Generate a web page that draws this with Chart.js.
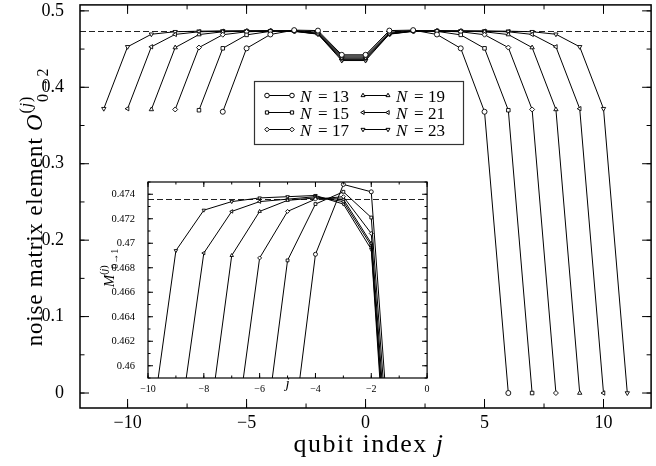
<!DOCTYPE html>
<html>
<head>
<meta charset="utf-8">
<script src="https://cdn.jsdelivr.net/npm/chart.js@4.4.1/dist/chart.umd.min.js"></script>
<style>
html, body { margin: 0; padding: 0; background: #fff; }
#wrap { position: relative; width: 656px; height: 466px; overflow: hidden; }
#main { position: absolute; left: 0; top: 0; }
#inset { position: absolute; left: 96px; top: 176px; }
</style>
</head>
<body>
<div id="wrap">
	<canvas id="main" width="656" height="466"></canvas>
	<canvas id="inset" width="336" height="222"></canvas>
</div>
<script>
// chain sizes and qubit indices
const sizes = ['13', '15', '17', '19', '21', '23']
const j13 = [-6, -5, -4, -3, -2, -1, 0, 1, 2, 3, 4, 5, 6]
const j15 = [-7, -6, -5, -4, -3, -2, -1, 0, 1, 2, 3, 4, 5, 6, 7]
const j17 = [-8, -7, -6, -5, -4, -3, -2, -1, 0, 1, 2, 3, 4, 5, 6, 7, 8]
const j19 = [-9, -8, -7, -6, -5, -4, -3, -2, -1, 0, 1, 2, 3, 4, 5, 6, 7, 8, 9]
const j21 = [-10, -9, -8, -7, -6, -5, -4, -3, -2, -1, 0, 1, 2, 3, 4, 5, 6, 7, 8, 9, 10]
const j23 = [-11, -10, -9, -8, -7, -6, -5, -4, -3, -2, -1, 0, 1, 2, 3, 4, 5, 6, 7, 8, 9, 10, 11]

// noise matrix element per qubit
const o13 = [0.368, 0.451, 0.4691, 0.4748, 0.4742, 0.4425, 0.4425, 0.4742, 0.4748, 0.4691, 0.451, 0.368, 0]
const o15 = [0.370, 0.451, 0.4686, 0.4732, 0.4742, 0.4721, 0.441, 0.441, 0.4721, 0.4742, 0.4732, 0.4686, 0.451, 0.370, 0]
const o17 = [0.371, 0.452, 0.4688, 0.4726, 0.4736, 0.4738, 0.4708, 0.4395, 0.4395, 0.4708, 0.4738, 0.4736, 0.4726, 0.4688, 0.452, 0.371, 0]
const o19 = [0.371, 0.452, 0.4690, 0.4726, 0.4735, 0.4737, 0.4736, 0.4700, 0.438, 0.438, 0.4700, 0.4736, 0.4737, 0.4735, 0.4726, 0.4690, 0.452, 0.371, 0]
const o21 = [0.372, 0.453, 0.4692, 0.4726, 0.4734, 0.4736, 0.4738, 0.4734, 0.4698, 0.4365, 0.4365, 0.4698, 0.4734, 0.4738, 0.4736, 0.4734, 0.4726, 0.4692, 0.453, 0.372, 0]
const o23 = [0.372, 0.453, 0.4694, 0.4727, 0.4734, 0.4737, 0.4738, 0.4739, 0.4732, 0.4695, 0.435, 0.435, 0.4695, 0.4732, 0.4739, 0.4738, 0.4737, 0.4734, 0.4727, 0.4694, 0.453, 0.372, 0]

const plateau = 0.4736

// tick values
const mainXTicks = [-10, -5, 0, 5, 10]
const mainYTicks = [0, 0.1, 0.2, 0.3, 0.4, 0.5]
const insetXTicks = [-10, -8, -6, -4, -2, 0]
const insetYTicks = [0.46, 0.462, 0.464, 0.466, 0.468, 0.47, 0.472, 0.474]

const markers = ['circle', 'rect', 'rectRot', 'triangle', 'triangle', 'triangle']
const markerTurn = [0, 0, 0, 0, -90, 180]

const serif = '"Liberation Serif", "DejaVu Serif", serif'
const jAll = [j13, j15, j17, j19, j21, j23]
const oAll = [o13, o15, o17, o19, o21, o23]

const makeSets = (radius) => sizes.map((n, i) => ({
	label: 'N = ' + n,
	data: jAll[i].map((j, k) => ({x: j, y: oAll[i][k]})),
	borderColor: '#000',
	borderWidth: 1,
	backgroundColor: '#fff',
	pointStyle: markers[i],
	pointRotation: markerTurn[i],
	pointRadius: radius,
	pointBorderWidth: 0.9,
	pointBorderColor: '#000',
	pointBackgroundColor: '#fff',
	tension: 0
}))

const minus = v => (v < 0 ? '\u2212' + Math.abs(v) : String(v))
const useTicks = list => s => { s.ticks = list.map(v => ({value: v})) }

// frame, inward ticks and the dashed plateau
const framePlugin = {
	id: 'frame',
	beforeDatasetsDraw(chart, args, o) {
		const {ctx, chartArea: a, scales: {y}} = chart
		const yp = Math.round(y.getPixelForValue(plateau)) + 0.5
		ctx.save()
		ctx.strokeStyle = '#222'
		ctx.lineWidth = 1
		ctx.setLineDash(o.dash)
		ctx.beginPath()
		ctx.moveTo(a.left, yp)
		ctx.lineTo(a.right, yp)
		ctx.stroke()
		ctx.restore()
	},
	afterDraw(chart, args, o) {
		const {ctx, chartArea: a, scales: {x, y}} = chart
		ctx.save()
		ctx.strokeStyle = '#000'
		ctx.lineWidth = 1
		const marks = (scale, step, len) => {
			const k0 = Math.ceil(scale.min / step - 1e-9)
			const k1 = Math.floor(scale.max / step + 1e-9)
			for (let k = k0; k <= k1; k++) {
				const p = scale.getPixelForValue(k * step)
				ctx.beginPath()
				if (scale.axis === 'x') {
					ctx.moveTo(p, a.bottom); ctx.lineTo(p, a.bottom - len)
					ctx.moveTo(p, a.top); ctx.lineTo(p, a.top + len)
				} else {
					ctx.moveTo(a.left, p); ctx.lineTo(a.left + len, p)
					ctx.moveTo(a.right, p); ctx.lineTo(a.right - len, p)
				}
				ctx.stroke()
			}
		}
		marks(x, o.xMinor, o.minorLen)
		marks(x, o.xMajor, o.majorLen)
		marks(y, o.yMinor, o.minorLen)
		marks(y, o.yMajor, o.majorLen)
		ctx.lineWidth = o.frameWidth
		ctx.strokeRect(a.left, a.top, a.right - a.left, a.bottom - a.top)
		ctx.restore()
	}
}

// draws a run of text pieces; s = size, it = italic, dy = shift, back = start at previous x
const drawPieces = (ctx, pieces, x, y, center, spacing) => {
	const fontOf = p => (p.it ? 'italic ' : '') + p.s + 'px ' + serif
	ctx.letterSpacing = (spacing || 0) + 'px'
	let w = 0, last = 0
	pieces.forEach(p => {
		ctx.font = fontOf(p)
		const pw = ctx.measureText(p.t).width
		if (p.back) { w = Math.max(w, last + pw) } else { last = w; w = w + pw }
	})
	let px = center ? x - w / 2 : x
	let start = px
	pieces.forEach(p => {
		ctx.font = fontOf(p)
		const pw = ctx.measureText(p.t).width
		if (p.back) {
			ctx.fillText(p.t, start, y + (p.dy || 0))
		} else {
			start = px
			ctx.fillText(p.t, px, y + (p.dy || 0))
			px += pw
		}
	})
	ctx.letterSpacing = '0px'
}

const mainText = {
	id: 'mainText',
	afterDraw(chart) {
		const {ctx, chartArea: a} = chart
		ctx.save()
		ctx.fillStyle = '#000'
		ctx.textBaseline = 'alphabetic'
		ctx.textAlign = 'left'
		// x title
		drawPieces(ctx, [
			{t: 'qubit index ', s: 26},
			{t: 'j', s: 26, it: true}
		], 369, 452, true, 1.5)
		// y title
		ctx.save()
		ctx.translate(42, 207)
		ctx.rotate(-Math.PI / 2)
		drawPieces(ctx, [
			{t: 'noise matrix element ', s: 23},
			{t: 'O', s: 23, it: true},
			{t: '(', s: 16, dy: -11},
			{t: 'j', s: 16, it: true, dy: -11},
			{t: ')', s: 16, dy: -11},
			{t: '0\u21922', s: 16, dy: 6, back: true}
		], 0, 0, true, 0.8)
		ctx.restore()

		// legend
		const bx = 254.5, by = 81.5, bw = 209, bh = 63
		ctx.fillStyle = '#fff'
		ctx.fillRect(bx, by, bw, bh)
		ctx.strokeStyle = '#333'
		ctx.lineWidth = 1.2
		ctx.strokeRect(bx, by, bw, bh)
		sizes.forEach((n, i) => {
			const col = i < 3 ? 0 : 1
			const row = i % 3
			const ly = 95.5 + row * 17
			const x1 = col ? 363 : 267
			const x2 = x1 + 25
			ctx.strokeStyle = '#000'
			ctx.lineWidth = 1
			ctx.beginPath()
			ctx.moveTo(x1, ly); ctx.lineTo(x2, ly)
			ctx.stroke()
			ctx.fillStyle = '#fff'
			const opt = {pointStyle: markers[i], rotation: markerTurn[i], radius: 2.3, borderWidth: 0.9}
			Chart.helpers.drawPoint(ctx, opt, x1, ly)
			Chart.helpers.drawPoint(ctx, opt, x2, ly)
			ctx.fillStyle = '#000'
			ctx.font = 'italic 17px ' + serif
			ctx.fillText('N', x1 + 33, ly + 6)
			ctx.font = '17px ' + serif
			ctx.fillText('=', x1 + 51, ly + 6)
			ctx.fillText(n, x1 + 65, ly + 6)
		})
		ctx.restore()
	}
}

const insetText = {
	id: 'insetText',
	afterDraw(chart) {
		const {ctx, chartArea: a} = chart
		ctx.save()
		ctx.fillStyle = '#000'
		ctx.textBaseline = 'alphabetic'
		drawPieces(ctx, [{t: 'j', s: 15, it: true}], (a.left + a.right) / 2, 212, true)
		ctx.translate(18, 92)
		ctx.rotate(-Math.PI / 2)
		drawPieces(ctx, [
			{t: 'M', s: 15, it: true},
			{t: '(', s: 10, dy: -7},
			{t: 'j', s: 10, it: true, dy: -7},
			{t: ')', s: 10, dy: -7},
			{t: '0\u21921', s: 10, dy: 4, back: true}
		], 0, 0, true)
		ctx.restore()
	}
}

Chart.defaults.color = '#000'
Chart.defaults.font.family = serif

const noGrid = {display: false}
const noBorder = {display: false}

new Chart(document.getElementById('main'), {
	type: 'line',
	data: {datasets: makeSets(2.5)},
	options: {
		responsive: false,
		animation: false,
		devicePixelRatio: 1,
		layout: {padding: {top: 4, right: -2, left: 0, bottom: 0}},
		plugins: {
			legend: {display: false},
			tooltip: {enabled: false},
			frame: {dash: [6, 3], xMajor: 5, xMinor: 2.5, yMajor: 0.1, yMinor: 0.05, majorLen: 9, minorLen: 4.5, frameWidth: 1.5}
		},
		scales: {
			x: {
				type: 'linear',
				min: -12,
				max: 12,
				grid: noGrid,
				border: noBorder,
				afterBuildTicks: useTicks(mainXTicks),
				afterFit: s => { s.height = 58; s.paddingLeft = 0; s.paddingRight = 0 },
				ticks: {padding: -4, maxRotation: 0, font: {size: 18}, callback: minus}
			},
			y: {
				min: -0.0196,
				max: 0.5078,
				grid: noGrid,
				border: noBorder,
				afterBuildTicks: useTicks(mainYTicks),
				afterFit: s => { s.width = 80; s.paddingTop = 0; s.paddingBottom = 0 },
				ticks: {padding: 8, font: {size: 18},
					callback: v => (Math.abs(v) < 1e-9 ? '0' : v.toFixed(1))}
			}
		}
	},
	plugins: [framePlugin, mainText]
})

new Chart(document.getElementById('inset'), {
	type: 'line',
	data: {datasets: makeSets(2).map(d => Object.assign(d, {clip: 0}))},
	options: {
		responsive: false,
		animation: false,
		devicePixelRatio: 1,
		layout: {padding: {top: 6, right: 4, left: 0, bottom: 0}},
		plugins: {
			legend: {display: false},
			tooltip: {enabled: false},
			frame: {dash: [6, 3], xMajor: 2, xMinor: 1, yMajor: 0.002, yMinor: 0.001, majorLen: 5, minorLen: 2.5, frameWidth: 1.2}
		},
		scales: {
			x: {
				type: 'linear',
				min: -10,
				max: 0,
				grid: noGrid,
				border: noBorder,
				afterBuildTicks: useTicks(insetXTicks),
				afterFit: s => { s.height = 20; s.paddingLeft = 0; s.paddingRight = 0 },
				ticks: {padding: -3, maxRotation: 0, font: {size: 10}, callback: minus}
			},
			y: {
				min: 0.459,
				max: 0.475,
				grid: noGrid,
				border: noBorder,
				afterBuildTicks: useTicks(insetYTicks),
				afterFit: s => { s.width = 52; s.paddingTop = 0; s.paddingBottom = 0 },
				ticks: {padding: 5, font: {size: 10.5},
					callback: v => String(parseFloat(v.toFixed(3)))}
			}
		}
	},
	plugins: [framePlugin, insetText]
})
</script>
</body>
</html>
